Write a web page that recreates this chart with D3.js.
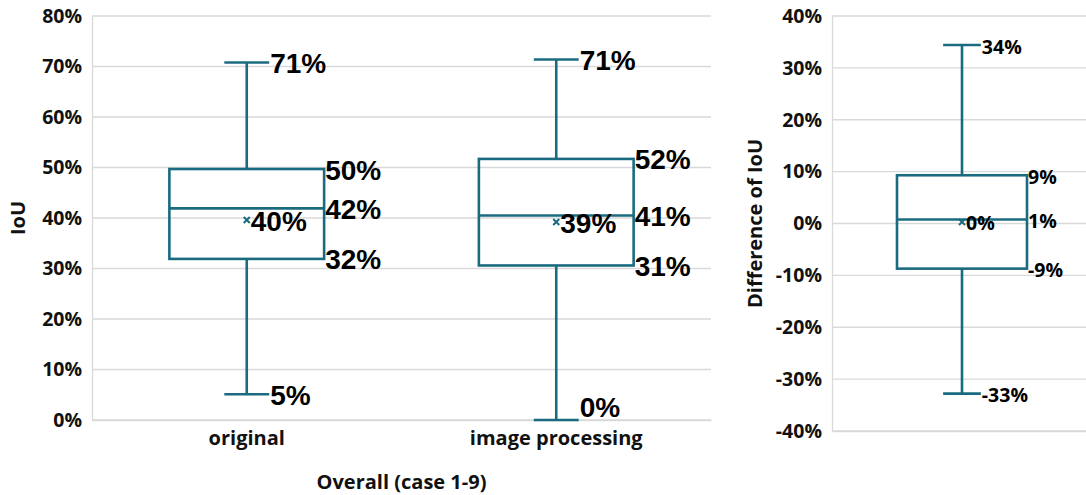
<!DOCTYPE html>
<html><head><meta charset="utf-8">
<script src="https://cdn.jsdelivr.net/npm/d3@7"></script>
<style>
body{margin:0;background:#fff;}
svg{display:block;}
.tick text{font-family:"Open Sans",Lato,sans-serif;font-weight:700;fill:#111;}
</style></head>
<body><svg id="c" width="1086" height="495"></svg>
<script>
// ---- data (percent units) ----
const categories = ["original", "image processing"];
const minV    = [5.1, 0];
const q1V     = [31.9, 30.6];
const medianV = [41.9, 40.5];
const q3V     = [49.7, 51.7];
const maxV    = [70.8, 71.4];
const meanV   = [39.6, 39.2];
const leftTicks = [0,10,20,30,40,50,60,70,80];

const diffCategory = ["difference"];
const diffMin = [-32.8], diffQ1 = [-8.7], diffMedian = [0.77], diffQ3 = [9.3], diffMax = [34.4], diffMean = [0.3];
const rightTicks = [-40,-30,-20,-10,0,10,20,30,40];

const C = "#1a6b80", GRID = "#d9d9d9";
const FONT = "'Open Sans',Lato,sans-serif";
const svg = d3.select("#c");

function panel(o){
  const g = svg.append("g");
  const x = d3.scaleBand().domain(o.cats).range([o.x0, o.x1]);
  const y = d3.scaleLinear().domain(o.domain).range([o.y1, o.y0]);
  g.append("g").selectAll("line").data(o.ticks).join("line")
    .attr("x1", o.x0).attr("x2", o.x1).attr("y1", d=>y(d)).attr("y2", d=>y(d))
    .attr("stroke", GRID).attr("stroke-width", 1.3);
  const ya = g.append("g").attr("transform",`translate(${o.x0},0)`)
    .call(d3.axisLeft(y).tickValues(o.ticks).tickFormat(d=>d+"%").tickSize(0).tickPadding(10));
  ya.select(".domain").attr("stroke", GRID).attr("stroke-width",1.3);
  ya.selectAll("text").style("font-size","19.5px");
  const xa = g.append("g").attr("transform",`translate(0,${o.y1})`)
    .call(d3.axisBottom(x).tickSize(0).tickPadding(11));
  xa.select(".domain").attr("stroke", GRID).attr("stroke-width",1.3);
  xa.selectAll("text").style("font-size","20px").style("fill","#111");
  if(!o.showX) xa.selectAll("text").remove();

  const bw = x.bandwidth()*0.5, cw = bw*0.29;
  o.cats.forEach((c,i)=>{
    const cx = x(c)+x.bandwidth()/2;
    const d = {mn:o.mn[i], q1:o.q1[i], md:o.md[i], q3:o.q3[i], mx:o.mx[i], me:o.me[i]};
    const s = (sel)=>sel.attr("stroke",C).attr("stroke-width",2.6).attr("fill","none");
    g.append("line").attr("x1",cx).attr("x2",cx).attr("y1",y(d.mx)).attr("y2",y(d.q3)).call(s);
    g.append("line").attr("x1",cx).attr("x2",cx).attr("y1",y(d.q1)).attr("y2",y(d.mn)).call(s);
    g.append("line").attr("x1",cx-cw/2).attr("x2",cx+cw/2).attr("y1",y(d.mx)).attr("y2",y(d.mx)).call(s);
    g.append("line").attr("x1",cx-cw/2).attr("x2",cx+cw/2).attr("y1",y(d.mn)).attr("y2",y(d.mn)).call(s);
    g.append("rect").attr("x",cx-bw/2).attr("width",bw).attr("y",y(d.q3)).attr("height",y(d.q1)-y(d.q3)).call(s);
    g.append("line").attr("x1",cx-bw/2).attr("x2",cx+bw/2).attr("y1",y(d.md)).attr("y2",y(d.md)).call(s);
    const m = 3, my = y(d.me);
    g.append("path").attr("d",`M${cx-m},${my-m}L${cx+m},${my+m}M${cx-m},${my+m}L${cx+m},${my-m}`)
      .attr("stroke",C).attr("stroke-width",2);
    const lab = [
      {v:d.mx, x:cx+cw/2+1}, {v:d.mn, x:cx+cw/2+1, clamp:true},
      {v:d.q3, x:cx+bw/2+1}, {v:d.md, x:cx+bw/2+1}, {v:d.q1, x:cx+bw/2+1},
      {v:d.me, x:cx+4}
    ];
    lab.forEach(l=>{
      let ly = y(l.v)+1;
      if(l.clamp) ly = Math.min(ly, o.y1-13);
      g.append("text").attr("x",l.x).attr("y",ly).attr("dominant-baseline","central")
        .attr("font-family",o.labFont).attr("font-weight",700).attr("font-size",o.labSize)
        .attr("fill","#000").text(Math.round(l.v)+"%");
    });
  });
  g.append("text").attr("transform",`translate(${o.ytX},${(o.y0+o.y1)/2}) rotate(-90)`)
    .attr("text-anchor","middle").attr("dominant-baseline","central")
    .attr("font-family",FONT).attr("font-weight",700).attr("font-size","20px")
    .attr("fill","#111").text(o.ytitle);
  if(o.xtitle) g.append("text").attr("x",(o.x0+o.x1)/2).attr("y",481)
    .attr("text-anchor","middle").attr("dominant-baseline","central")
    .attr("font-family",FONT).attr("font-weight",700).attr("font-size","20px")
    .attr("fill","#111").text(o.xtitle);
}

panel({cats:categories, mn:minV, q1:q1V, md:medianV, q3:q3V, mx:maxV, me:meanV,
  ticks:leftTicks, domain:[0,80], x0:92, x1:711, y0:16, y1:420, showX:true,
  labFont:"'Liberation Sans',Arial,sans-serif", labSize:"28px",
  ytitle:"IoU", ytX:17, xtitle:"Overall (case 1-9)"});

panel({cats:diffCategory, mn:diffMin, q1:diffQ1, md:diffMedian, q3:diffQ3, mx:diffMax, me:diffMean,
  ticks:rightTicks, domain:[-40,40], x0:832, x1:1092, y0:16, y1:431, showX:false,
  labFont:FONT, labSize:"19.5px",
  ytitle:"Difference of IoU", ytX:754});
</script></body></html>
